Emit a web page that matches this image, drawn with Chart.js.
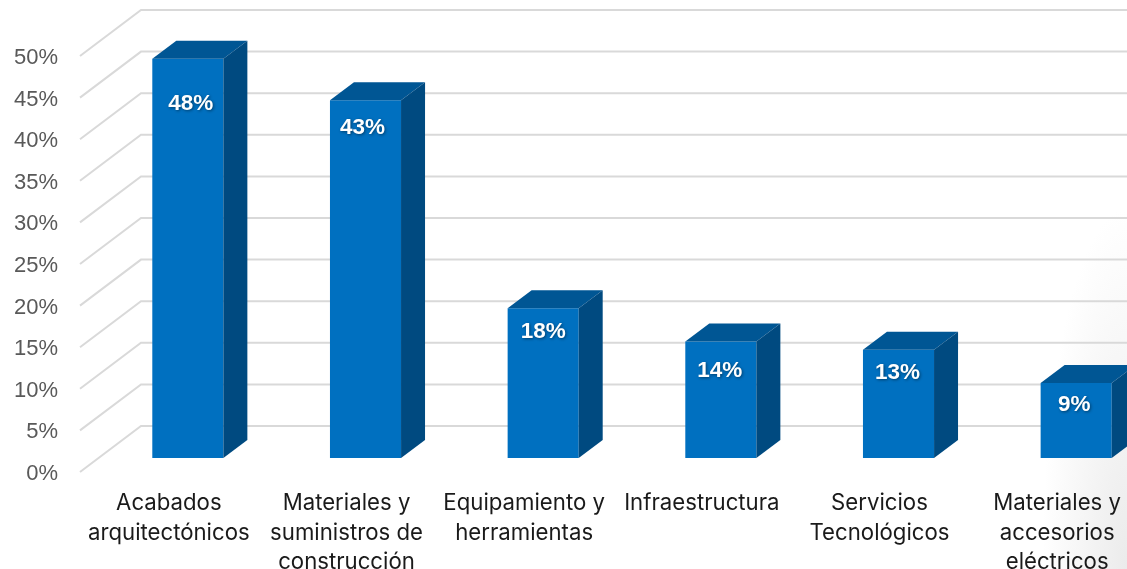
<!DOCTYPE html>
<html>
<head>
<meta charset="utf-8">
<script src="https://cdn.jsdelivr.net/npm/chart.js@4"></script>
<style>
  html, body { margin: 0; padding: 0; background: #fff; overflow: hidden; }
  #page {
    width: 1127px;
    height: 569px;
    overflow: hidden;
    background: radial-gradient(ellipse 85px 360px at 1127px 569px, #ebebeb, rgba(255, 255, 255, 0));
  }
  canvas { display: block; }
</style>
</head>
<body>
<div id="page"><canvas id="chart" width="1200" height="569"></canvas></div>
<script>
const categories = [
  ["Acabados", "arquitectónicos"],
  ["Materiales y", "suministros de", "construcción"],
  ["Equipamiento y", "herramientas"],
  ["Infraestructura"],
  ["Servicios", "Tecnológicos"],
  ["Materiales y", "accesorios", "eléctricos"],
];
const values = [48, 43, 18, 14, 13, 9];
const labelOffsets = [[3, 45], [-3, 28], [0, 24], [-1, 29], [-1, 23], [-2, 22]];

const front = "#0070c0";
const top3d = "#005694";
const side = "#004a80";
const grid = "#d9d9d9";

// fake 3D: bars sit halfway into the floor, walls run back from the axis
const wall = { x: 61, y: 46 };
const shift = { x: 19, y: 14 };
const depth = { x: 24, y: 18 };

function poly(ctx, pts, color) {
  ctx.fillStyle = color;
  ctx.beginPath();
  pts.forEach((p, i) => (i ? ctx.lineTo(p[0], p[1]) : ctx.moveTo(p[0], p[1])));
  ctx.closePath();
  ctx.fill();
}

const bars3d = {
  id: "bars3d",
  beforeDatasetsDraw(chart) {
    const { ctx, scales: { x, y } } = chart;
    ctx.save();
    ctx.strokeStyle = grid;
    ctx.lineWidth = 2;
    ctx.fillStyle = "#595959";
    ctx.font = "22px 'Liberation Sans'";
    ctx.textAlign = "right";
    ctx.textBaseline = "middle";
    y.ticks.forEach((t) => {
      const py = y.getPixelForValue(t.value);
      ctx.beginPath();
      ctx.moveTo(x.left, py);
      ctx.lineTo(x.left + wall.x, py - wall.y);
      ctx.lineTo(x.right + wall.x, py - wall.y);
      ctx.stroke();
      // tick labels sit a little under their line in the original
      ctx.fillText(t.label, x.left - 22, py + 2);
    });
    ctx.restore();
    ctx.save();
    ctx.translate(shift.x, -shift.y);
  },
  afterDatasetsDraw(chart) {
    const { ctx } = chart;
    chart.getDatasetMeta(0).data.forEach((bar, i) => {
      const l = bar.x - bar.width / 2;
      const r = bar.x + bar.width / 2;
      poly(ctx, [[l, bar.y], [l + depth.x, bar.y - depth.y], [r + depth.x, bar.y - depth.y], [r, bar.y]], top3d);
      poly(ctx, [[r, bar.y], [r + depth.x, bar.y - depth.y], [r + depth.x, bar.base - depth.y], [r, bar.base]], side);

      ctx.save();
      ctx.fillStyle = "#fff";
      ctx.font = "bold 22.5px 'Liberation Sans'";
      ctx.textAlign = "center";
      ctx.textBaseline = "middle";
      ctx.shadowColor = "rgba(0,0,0,0.45)";
      ctx.shadowBlur = 3;
      ctx.shadowOffsetX = 1;
      ctx.shadowOffsetY = 1;
      ctx.fillText(values[i] + "%", bar.x + labelOffsets[i][0], bar.y + labelOffsets[i][1]);
      ctx.restore();
    });
    ctx.restore();
  },
};

new Chart(document.getElementById("chart"), {
  type: "bar",
  data: {
    labels: categories,
    datasets: [
      {
        data: values,
        backgroundColor: front,
        barPercentage: 0.4,
        categoryPercentage: 1,
        clip: false,
      },
    ],
  },
  options: {
    responsive: false,
    animation: false,
    layout: { padding: { top: 56, right: 54, left: 0, bottom: 0 } },
    plugins: { legend: { display: false }, tooltip: { enabled: false } },
    scales: {
      x: {
        afterFit(s) { s.height = 97; },
        border: { display: false },
        grid: { display: false },
        ticks: {
          maxRotation: 0,
          autoSkip: false,
          padding: 9,
          color: "#1a1a1a",
          font: { family: "Inter", size: 22.2, lineHeight: 1.32 },
        },
      },
      y: {
        min: 0,
        max: 50,
        afterFit(s) { s.width = 80; },
        border: { display: false },
        grid: { display: false, drawTicks: false },
        ticks: {
          stepSize: 5,
          display: false,
          callback: (v) => v + "%",
        },
      },
    },
  },
  plugins: [bars3d],
});
</script>
</body>
</html>
